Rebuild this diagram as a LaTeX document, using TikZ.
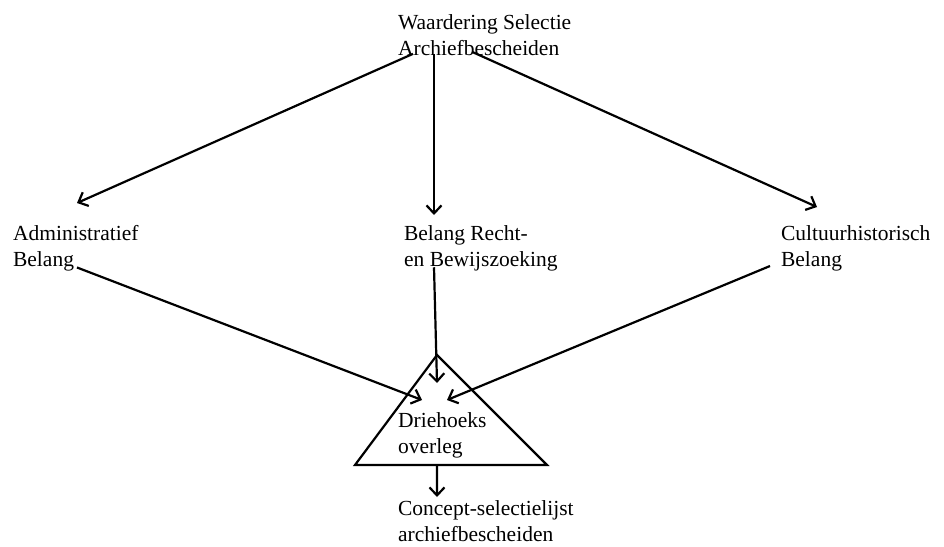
\documentclass[tikz,border=0pt]{standalone}
\usepackage{fontspec}
\setmainfont{Liberation Serif}
\usetikzlibrary{arrows.meta, positioning, calc}

\begin{document}
\begin{tikzpicture}[x=1pt, y=-1pt, line width=2.2pt,
    label text/.style={anchor=north west, inner sep=0pt, align=left, font=\fontsize{21.5}{26.5}\selectfont},
    flow/.style={-{Straight Barb[length=8pt, width=15pt, line width=2.2pt]}}]

    \useasboundingbox (0,0) rectangle (944,546);

    % ==================== TEXT NODES ====================
    % Top: starting point
    \node [label text] (waard) at (397, 13) {Waardering Selectie\\Archiefbescheiden};

    % Middle row: three interests
    \node [label text] (admin) at (12, 224) {Administratief\\Belang};
    \node [label text] (recht) at (403, 224) {Belang Recht-\\en Bewijszoeking};
    \node [label text] (cult) at (780, 224) {Cultuurhistorisch\\Belang};

    % Triangle text
    \node [label text] (drie) at (397, 411) {Driehoeks\\overleg};

    % Bottom: result
    \node [label text] (concept) at (397, 499) {Concept-selectielijst\\archiefbescheiden};

    % ==================== TRIANGLE ====================
    \coordinate (apex) at (437, 355);
    \coordinate (baseL) at (355, 465);
    \coordinate (baseR) at (547, 465);
    \draw [line join=miter] (apex) -- (baseL) -- (baseR) -- cycle;

    % ==================== ARROW TIPS ====================
    \coordinate (tipAdmin) at (77, 203);
    \coordinate (tipRecht) at (434, 215);
    \coordinate (tipCult) at (817, 207);
    \coordinate (tipDrieL) at (422, 400);
    \coordinate (tipDrieM) at (437, 383);
    \coordinate (tipDrieR) at (447, 400);
    \coordinate (tipConcept) at (437, 497);
    \coordinate (baseMid) at ($(baseL)!0.427!(baseR)$);

    % ==================== CONNECTIONS ====================
    % 1. From the top to the three interests
    \draw [flow] ($(waard.south west)+(16,-3)$) -- (tipAdmin);
    \draw [flow] ($(waard.south west)+(37,-3)$) -- (tipRecht);
    \draw [flow] ($(waard.south west)+(75,-5)$) -- (tipCult);

    % 2. From the interests into the triangle
    \draw [flow] ($(admin.south west)+(65,-5)$) -- (tipDrieL);
    \draw [flow] ($(recht.south west)+(31,-5)$) -- (tipDrieM);
    \draw [flow] ($(cult.north west)+(-10,42)$) -- (tipDrieR);

    % 3. From the triangle to the result
    \draw [flow] (baseMid) -- (tipConcept);

\end{tikzpicture}
\end{document}
